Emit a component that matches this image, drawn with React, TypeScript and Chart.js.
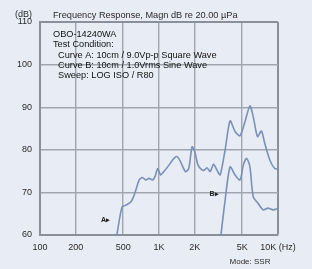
import { useEffect, useRef } from 'react';
import { Chart, registerables } from 'chart.js';

Chart.register(...registerables);

const xTicks = [100, 200, 500, 1000, 2000, 5000, 10000];
const xTickLabels = ['100', '200', '500', '1K', '2K', '5K', '10K (Hz)'];
const yTicks = [60, 70, 80, 90, 100, 110];

const freqA = [440, 489, 528, 581, 619, 640, 681, 726, 775, 825, 880, 926, 975, 1033, 1101, 1212, 1334, 1421, 1516, 1668, 1778, 1896, 1995, 2128, 2297, 2400, 2528, 2696, 2873, 3063, 3266, 3594, 3955, 4355, 4795, 5275, 5808, 6190, 6723, 7262, 7742, 8530, 9380, 10000];
const dbA = [59.6, 66.6, 67.0, 67.8, 69.4, 70.6, 72.9, 73.5, 72.9, 73.3, 72.9, 73.7, 75.6, 74.1, 74.9, 76.4, 78.0, 78.4, 77.2, 74.9, 75.6, 80.7, 79.6, 76.4, 75.3, 75.2, 75.8, 74.9, 76.6, 75.3, 74.1, 80.0, 86.8, 84.3, 83.3, 86.6, 90.3, 87.8, 83.1, 84.4, 81.5, 77.6, 75.6, 75.5];

const freqB = [3300, 3594, 3955, 4355, 4795, 5109, 5446, 5808, 6190, 6813, 7499, 8254, 9085, 10000];
const dbB = [59.5, 68.2, 76.0, 74.1, 72.9, 76.4, 78.0, 76.0, 69.0, 67.4, 65.9, 66.3, 65.9, 66.2];

const titleText = 'Frequency Response, Magn dB re 20.00 µPa';
const yUnit = '(dB)';
const noteLines = ['OBO-14240WA', 'Test Condition:', '  Curve A: 10cm / 9.0Vp-p Square Wave', '  Curve B: 10cm / 1.0Vrms Sine Wave', '  Sweep: LOG ISO / R80'];
const modeText = 'Mode: SSR';
const curveLabels = [
  { text: 'A\u25B8', f: 355, db: 63.5 },
  { text: 'B\u25B8', f: 2900, db: 69.6 },
];

const FONT = '"Liberation Sans", Arial, sans-serif';
const LINE = '#7a90b4';
const GRID = '#a0a6b0';
const FRAME = '#8a909a';

export default function App() {
  const ref = useRef<HTMLCanvasElement | null>(null);
  useEffect(() => {
    const canvas = ref.current;
    if (!canvas) return;
    const textPlugin = {
      id: 'texts',
      afterDraw(chart: any) {
        const ctx = chart.ctx;
        const xs = chart.scales.x;
        const ys = chart.scales.y;
        ctx.save();
        ctx.textBaseline = 'middle';
        ctx.fillStyle = '#2a2a2a';
        ctx.font = `9px ${FONT}`;
        ctx.textAlign = 'left';
        ctx.fillText(yUnit, 15, 15);
        ctx.font = `9.2px ${FONT}`;
        ctx.fillText(titleText, 53, 15);
        ctx.fillStyle = '#111';
        ctx.font = `9.2px ${FONT}`;
        noteLines.forEach((l, i) => {
          ctx.fillText(l, 53, 34.5 + i * 10.3);
        });
        ctx.fillStyle = '#2a2a2a';
        ctx.textAlign = 'center';
        ctx.font = `8px ${FONT}`;
        ctx.fillText(modeText, 250, 262);
        ctx.font = `bold 7px ${FONT}`;
        ctx.fillStyle = '#222';
        curveLabels.forEach((c) => {
          ctx.fillText(c.text, xs.getPixelForValue(c.f), ys.getPixelForValue(c.db));
        });
        ctx.restore();
      },
    };
    const chart = new Chart(canvas, {
      type: 'line',
      data: {
        datasets: [
          {
            label: 'A',
            data: freqA.map((f, i) => ({ x: f, y: dbA[i] })),
            borderColor: LINE,
            borderWidth: 1.6,
            pointRadius: 0,
            tension: 0.25,
            fill: false,
          },
          {
            label: 'B',
            data: freqB.map((f, i) => ({ x: f, y: dbB[i] })),
            borderColor: LINE,
            borderWidth: 1.6,
            pointRadius: 0,
            tension: 0.25,
            fill: false,
          },
        ],
      },
      options: {
        responsive: false,
        animation: false,
        devicePixelRatio: 1,
        layout: { padding: { top: 22, right: 34, left: 0, bottom: 0 } },
        plugins: { legend: { display: false }, tooltip: { enabled: false }, title: { display: false } },
        scales: {
          x: {
            type: 'logarithmic',
            min: 100,
            max: 10000,
            afterFit: (s: any) => { s.height = 34; },
            afterBuildTicks: (s: any) => { s.ticks = xTicks.map((v) => ({ value: v })); },
            ticks: {
              autoSkip: false,
              maxRotation: 0,
              padding: 7,
              color: '#2a2a2a',
              font: { family: FONT, size: 9 },
              callback: (v: any) => { const i = xTicks.indexOf(Number(v)); return i >= 0 ? xTickLabels[i] : ''; },
            },
            grid: {
              drawTicks: false,
              color: (c: any) => (c.tick && c.tick.value === 10000 ? FRAME : GRID),
              lineWidth: (c: any) => (c.tick && c.tick.value === 10000 ? 2 : 1.4),
            },
            border: { display: true, color: FRAME, width: 2 },
          },
          y: {
            type: 'linear',
            min: 60,
            max: 110,
            afterFit: (s: any) => { s.width = 40; },
            afterBuildTicks: (s: any) => { s.ticks = yTicks.map((v) => ({ value: v })); },
            ticks: {
              padding: 8,
              color: '#2a2a2a',
              font: { family: FONT, size: 9 },
            },
            grid: {
              drawTicks: false,
              color: (c: any) => (c.tick && c.tick.value === 110 ? FRAME : GRID),
              lineWidth: (c: any) => (c.tick && c.tick.value === 110 ? 2 : 1.4),
            },
            border: { display: true, color: FRAME, width: 2 },
          },
        },
      },
      plugins: [textPlugin],
    } as any);
    return () => chart.destroy();
  }, []);
  return (
    <div style={{ position: 'fixed', left: 0, top: 0, width: 312, height: 269, background: '#e8ecf5' }}>
      <canvas ref={ref} width={312} height={269} style={{ display: 'block', width: 312, height: 269 }} />
    </div>
  );
}
